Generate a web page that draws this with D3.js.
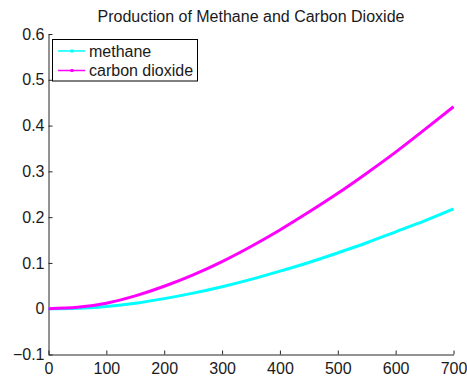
<!DOCTYPE html>
<html>
<head>
<meta charset="utf-8">
<script src="https://cdn.jsdelivr.net/npm/d3@7"></script>
<style>
  body { margin: 0; background: #fff; }
  text { font-family: "Liberation Sans", Arial, Helvetica, sans-serif; }
</style>
</head>
<body>
<div id="chart-area"></div>
<script>

// data
let timeSteps = [0, 50, 100, 150, 200, 250, 300, 350, 400, 450, 500, 550, 600, 650, 700];
let methane = [0, 0.001, 0.005, 0.012, 0.022, 0.034, 0.048, 0.064, 0.082, 0.101, 0.122, 0.144, 0.168, 0.192, 0.218];
let carbonDioxide = [0, 0.003, 0.012, 0.028, 0.049, 0.074, 0.103, 0.136, 0.172, 0.211, 0.252, 0.296, 0.342, 0.391, 0.441];
let seriesNames = ["methane", "carbon dioxide"];
let seriesColors = ["#00ffff", "#ff00ff"];
let xTicks = [0, 100, 200, 300, 400, 500, 600, 700];
let yTicks = [-0.1, 0, 0.1, 0.2, 0.3, 0.4, 0.5, 0.6];

// margin conventions
let margin = {top: 34, right: 13.5, bottom: 22.5, left: 48.5},
    width = 467 - margin.left - margin.right,
    height = 377 - margin.top - margin.bottom;

let svgRoot = d3.select("#chart-area").append("svg")
    .attr("width", 467)
    .attr("height", 377);

let svg = svgRoot.append("g")
    .attr("transform", "translate(" + margin.left + "," + margin.top + ")");

let x = d3.scaleLinear().domain([0, 700]).range([0, width]);
let y = d3.scaleLinear().domain([-0.1, 0.6]).range([height, 0]);

// axes, ticks pointing inward like matlab
let xAxis = d3.axisBottom(x).tickValues(xTicks).tickSizeInner(-4).tickSizeOuter(0).tickPadding(8);
let yAxis = d3.axisLeft(y).tickValues(yTicks).tickSizeInner(-4).tickSizeOuter(0).tickPadding(4)
    .tickFormat(d => d === 0 ? "0" : d3.format(".1f")(d));

let gx = svg.append("g")
    .attr("transform", "translate(0," + height + ")")
    .call(xAxis);
let gy = svg.append("g").call(yAxis);

[gx, gy].forEach(g => {
    g.select(".domain").attr("stroke", "#262626").attr("stroke-width", 1);
    g.selectAll(".tick line").attr("stroke", "#262626");
    g.selectAll(".tick text").attr("fill", "#1a1a1a").style("font-size", "16px");
});

// lines
let series = [methane, carbonDioxide];
let line = d3.line()
    .x((d, i) => x(timeSteps[i]))
    .y(d => y(d))
    .curve(d3.curveNatural);

svg.selectAll(".gas-line").data(series)
    .enter()
    .append("path")
    .attr("class", "gas-line")
    .attr("d", d => line(d))
    .attr("fill", "none")
    .attr("stroke", (d, i) => seriesColors[i])
    .attr("stroke-width", 3);

// title
svgRoot.append("text")
    .attr("x", margin.left + width / 2)
    .attr("y", 22)
    .attr("text-anchor", "middle")
    .attr("fill", "#1a1a1a")
    .style("font-size", "16px")
    .text("Production of Methane and Carbon Dioxide");

// legend
let legend = svgRoot.append("g");
legend.append("rect")
    .attr("x", 52.5).attr("y", 39.5)
    .attr("width", 145).attr("height", 41.5)
    .attr("fill", "#fff")
    .attr("stroke", "#000")
    .attr("stroke-width", 1);

let rows = legend.selectAll(".legend-row").data(seriesNames)
    .enter()
    .append("g")
    .attr("class", "legend-row")
    .attr("transform", (d, i) => "translate(0," + (51 + i * 19.5) + ")");

rows.append("line")
    .attr("x1", 58).attr("x2", 85)
    .attr("stroke", (d, i) => seriesColors[i])
    .attr("stroke-width", 1.5);

rows.append("rect")
    .attr("x", 70.5).attr("y", -1.5)
    .attr("width", 3).attr("height", 3)
    .attr("fill", (d, i) => seriesColors[i]);

rows.append("text")
    .attr("x", 89)
    .attr("y", 5.5)
    .attr("fill", "#1a1a1a")
    .style("font-size", "16px")
    .text(d => d);

</script>
</body>
</html>
